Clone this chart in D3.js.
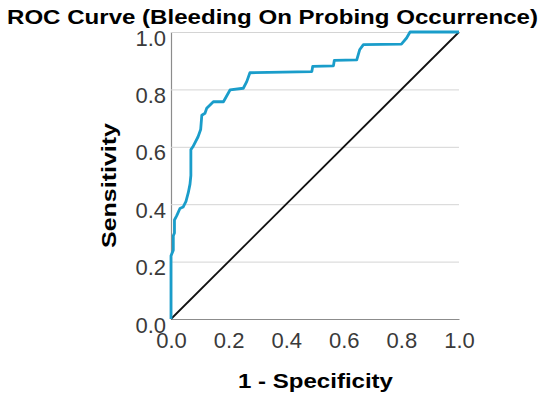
<!DOCTYPE html>
<html>
<head>
<meta charset="utf-8">
<script src="https://cdn.jsdelivr.net/npm/d3@7"></script>
<style>
  body { margin: 0; background: #fff; }
  svg text { font-family: "Liberation Sans", Arial, sans-serif; }
</style>
</head>
<body>
<div id="chart"></div>
<script>
// Chart data
const fpr = [0, 0, 0.008, 0.008, 0.012, 0.012, 0.02, 0.031, 0.042, 0.052, 0.06, 0.066, 0.069, 0.069,
  0.076, 0.094, 0.103, 0.107, 0.118, 0.124, 0.147, 0.182, 0.205, 0.251, 0.263, 0.274,
  0.489, 0.492, 0.564, 0.567, 0.645, 0.655, 0.668, 0.80, 0.818, 0.83, 1]
const tpr = [0, 0.22, 0.24, 0.29, 0.30, 0.345, 0.36, 0.385, 0.39, 0.41, 0.44, 0.47, 0.50, 0.59,
  0.60, 0.635, 0.66, 0.71, 0.717, 0.734, 0.757, 0.757, 0.798, 0.804, 0.827, 0.858,
  0.862, 0.880, 0.882, 0.901, 0.903, 0.938, 0.956, 0.958, 0.979, 1, 1]
const refLine = [0, 1]
const tickValues = [0, 0.2, 0.4, 0.6, 0.8, 1.0]

const W = 550
const H = 401
const margin = { left: 171, right: 91, top: 32, bottom: 82 }

const svg = d3.select('#chart')
  .append('svg')
  .attr('width', W)
  .attr('height', H)

const x = d3.scaleLinear().domain([0, 1]).range([margin.left, W - margin.right])
const y = d3.scaleLinear().domain([0, 1]).range([H - margin.bottom, margin.top])
const plotW = x(1) - x(0)

// y axis with gridlines
const yAxis = svg.append('g')
  .attr('transform', `translate(${x(0)},0)`)
  .call(d3.axisLeft(y).tickValues(tickValues).tickSize(-plotW).tickFormat(d3.format('.1f')))
yAxis.select('.domain').attr('stroke', '#8c8c8c').attr('stroke-width', 1.2)
yAxis.selectAll('.tick line').attr('stroke', '#d4d4d4').attr('stroke-width', 1)
yAxis.selectAll('.tick text')
  .attr('x', -5)
  .attr('dy', 13)
  .attr('font-size', 22)
  .attr('fill', '#3a3a3a')

// x axis
const xAxis = svg.append('g')
  .attr('transform', `translate(0,${y(0)})`)
  .call(d3.axisBottom(x).tickValues(tickValues).tickSize(0).tickFormat(d3.format('.1f')))
xAxis.select('.domain').attr('stroke', '#8c8c8c').attr('stroke-width', 1.2)
xAxis.selectAll('.tick text')
  .attr('y', 29)
  .attr('dy', 0)
  .attr('font-size', 22)
  .attr('fill', '#3a3a3a')

// reference diagonal
svg.append('path')
  .datum(refLine)
  .attr('d', d3.line().x(d => x(d)).y(d => y(d)))
  .attr('fill', 'none')
  .attr('stroke', '#111')
  .attr('stroke-width', 1.8)

// ROC curve
const rocPoints = fpr.map((f, i) => ({ f, t: tpr[i] }))
svg.append('path')
  .datum(rocPoints)
  .attr('d', d3.line().x(d => x(d.f)).y(d => y(d.t)))
  .attr('fill', 'none')
  .attr('stroke', '#1a9dca')
  .attr('stroke-width', 2.8)
  .attr('stroke-linejoin', 'round')

// titles
svg.append('text')
  .attr('x', 7)
  .attr('y', 23.5)
  .attr('font-size', 20)
  .attr('font-weight', 'bold')
  .attr('textLength', 531)
  .attr('lengthAdjust', 'spacingAndGlyphs')
  .text('ROC Curve (Bleeding On Probing Occurrence)')

svg.append('text')
  .attr('x', 238)
  .attr('y', 388)
  .attr('font-size', 21)
  .attr('font-weight', 'bold')
  .attr('textLength', 155)
  .attr('lengthAdjust', 'spacingAndGlyphs')
  .text('1 - Specificity')

svg.append('text')
  .attr('transform', 'translate(116,248) rotate(-90)')
  .attr('font-size', 21)
  .attr('font-weight', 'bold')
  .attr('textLength', 125)
  .attr('lengthAdjust', 'spacingAndGlyphs')
  .text('Sensitivity')
</script>
</body>
</html>
